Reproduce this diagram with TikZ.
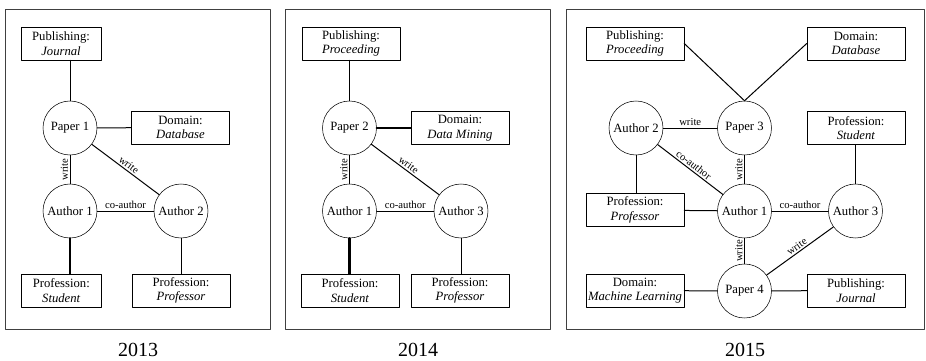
\documentclass[tikz,border=0pt]{standalone}
\usepackage{fontspec}
\setmainfont{Liberation Serif}
\begin{document}
\begin{tikzpicture}[x=0.75pt, y=-0.75pt, line join=round, line cap=round,
	ent/.style={draw, circle, minimum size=40.5pt, inner sep=0pt, font=\fontsize{9.5}{11}\selectfont},
	attr/.style={draw, rectangle, minimum height=24.75pt, inner sep=1pt, align=center, font=\fontsize{9.5}{11}\selectfont},
	lbl/.style={font=\fontsize{8}{9}\selectfont, inner sep=1.2pt},
	panel/.style={draw=black!75, line width=0.75pt},
	link/.style={line width=0.75pt},
	boldlink/.style={line width=1.6pt}]
	\useasboundingbox (0,0) rectangle (926,361);
	\def\wa{60pt} % schmale Kaesten
	\def\wb{73.5pt} % breite Kaesten
	% 2013
	\draw[panel] (5.5,9) rectangle (270.5,329);
	\node[attr, minimum width=\wa] (pub1) at (61,43.5) {Publishing:\\\textit{Journal}};
	\node[ent] (p1) at (70,128) {Paper 1};
	\node[attr, minimum width=\wb] (dom1) at (180.5,127.5) {Domain:\\\textit{Database}};
	\node[ent] (a1) at (70,211) {Author 1};
	\node[ent] (a2) at (181,211) {Author 2};
	\node[attr, minimum width=\wa] (stu1) at (61.3,290.5) {Profession:\\\textit{Student}};
	\node[attr, minimum width=\wb] (pro1) at (181,290.5) {Profession:\\\textit{Professor}};
	\draw[link] (p1) -- (p1 |- pub1.south);
	\draw[link] (p1) -- (dom1);
	\draw[link] (a1) -- node[lbl, sloped, above]{write} (p1);
	\draw[link] (p1) -- node[lbl, sloped, above]{write} (a2);
	\draw[link] (a1) -- node[lbl, above]{co-author} (a2);
	\draw[boldlink] (a1) -- (a1 |- stu1.north);
	\draw[link] (a2) -- (pro1);
	\node[font=\fontsize{15}{18}\selectfont] (y1) at (138,350) {2013};
	% 2014
	\draw[panel] (285.5,9) rectangle (550,329);
	\node[attr, minimum width=\wb] (pub2) at (351,43.5) {Publishing:\\\textit{Proceeding}};
	\node[ent] (p2) at (349.5,128) {Paper 2};
	\node[attr, minimum width=\wb] (dom2) at (460,128) {Domain:\\\textit{Data Mining}};
	\node[ent] (b1) at (349.5,211) {Author 1};
	\node[ent] (b3) at (461,211) {Author 3};
	\node[attr, minimum width=\wb] (stu2) at (350,290.5) {Profession:\\\textit{Student}};
	\node[attr, minimum width=\wb] (pro2) at (460,290.5) {Profession:\\\textit{Professor}};
	\draw[link] (p2) -- (p2 |- pub2.south);
	\draw[boldlink] (p2) -- (dom2);
	\draw[link] (b1) -- node[lbl, sloped, above]{write} (p2);
	\draw[link] (p2) -- node[lbl, sloped, above]{write} (b3);
	\draw[link] (b1) -- node[lbl, above]{co-author} (b3);
	\draw[boldlink] (b1) -- (b1 |- stu2.north);
	\draw[link] (b3) -- (b3 |- pro2.north);
	\node[font=\fontsize{15}{18}\selectfont] (y2) at (418,350) {2014};
	% 2015
	\draw[panel] (566.5,9) rectangle (924.5,329);
	\node[attr, minimum width=\wb] (pub3) at (635,43.5) {Publishing:\\\textit{Proceeding}};
	\node[attr, minimum width=\wb] (dom3) at (856,43.5) {Domain:\\\textit{Database}};
	\node[ent] (p3) at (744.5,128) {Paper 3};
	\node[ent] (c2) at (636,128) {Author 2};
	\node[attr, minimum width=\wb] (stu3) at (856,128) {Profession:\\\textit{Student}};
	\node[attr, minimum width=\wb] (pro3) at (635,210) {Profession:\\\textit{Professor}};
	\node[ent] (c1) at (744.5,211) {Author 1};
	\node[ent] (c3) at (855.5,211) {Author 3};
	\node[attr, minimum width=\wb] (ml) at (635,290.5) {Domain:\\\textit{Machine Learning}};
	\node[ent] (p4) at (744.5,291) {Paper 4};
	\node[attr, minimum width=\wb] (jou) at (856,290.5) {Publishing:\\\textit{Journal}};
	\draw[link] (pub3.east) -- (p3.north);
	\draw[link] (dom3.west) -- (p3.north);
	\draw[link] (c2) -- node[lbl, above]{write} (p3);
	\draw[link] (c2) -- node[lbl, sloped, above]{co-author} (c1);
	\draw[link] (c2) -- (c2 |- pro3.north);
	\draw[link] (c1) -- node[lbl, sloped, above]{write} (p3);
	\draw[link] (pro3) -- (c1);
	\draw[link] (c1) -- node[lbl, above]{co-author} (c3);
	\draw[link] (c3) -- (c3 |- stu3.south);
	\draw[link] (p4) -- node[lbl, sloped, above]{write} (c1);
	\draw[link] (p4) -- node[lbl, sloped, above]{write} (c3);
	\draw[link] (ml) -- (p4);
	\draw[link] (p4) -- (jou);
	\node[font=\fontsize{15}{18}\selectfont] (y3) at (745,350) {2015};
\end{tikzpicture}
\end{document}
